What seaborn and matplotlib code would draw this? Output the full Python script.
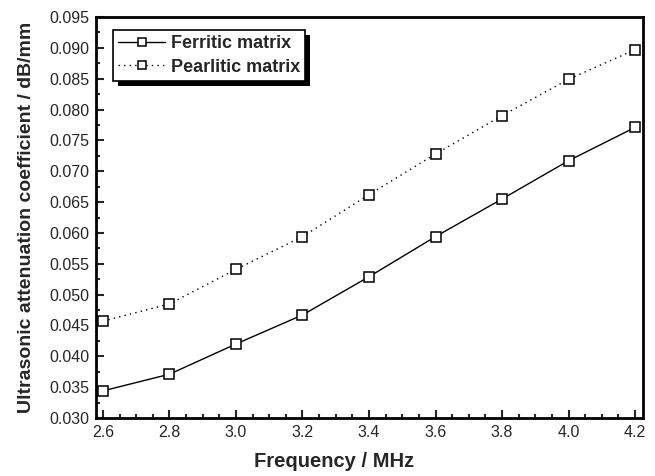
import numpy as np
import pandas as pd
import matplotlib
matplotlib.use("Agg")
import matplotlib.pyplot as plt
from matplotlib.patches import Rectangle
from matplotlib.transforms import IdentityTransform
from matplotlib.ticker import MultipleLocator, FormatStrFormatter
import seaborn as sns

# data
frequency = [2.6, 2.8, 3.0, 3.2, 3.4, 3.6, 3.8, 4.0, 4.2]
ferritic = [0.0344, 0.0371, 0.0420, 0.0467, 0.0529, 0.0594, 0.0655, 0.0717, 0.0771]
pearlitic = [0.0457, 0.0485, 0.0541, 0.0594, 0.0662, 0.0728, 0.0790, 0.0849, 0.0897]
series_names = ["Ferritic matrix", "Pearlitic matrix"]

df = pd.DataFrame({
    "freq": frequency * 2,
    "atten": ferritic + pearlitic,
    "series": [series_names[0]] * len(frequency) + [series_names[1]] * len(frequency),
})

sns.set_style("ticks")
plt.rcParams["font.family"] = ["Liberation Sans", "DejaVu Sans"]

fig = plt.figure(figsize=(6.55, 4.76), dpi=100)
ax = fig.add_axes([96 / 655, 58 / 476, 547 / 655, 401 / 476])

sns.lineplot(
    data=df, x="freq", y="atten", hue="series", style="series",
    palette=["black", "black"], dashes=[(None, None), (1, 3)],
    markers=["s", "s"], markersize=6.5, markerfacecolor="white",
    markeredgecolor="black", markeredgewidth=1.1, linewidth=1.0,
    ax=ax,
)

ax.set_xlim(2.579, 4.224)
ax.set_ylim(0.030, 0.095)
ax.xaxis.set_major_locator(MultipleLocator(0.2))
ax.xaxis.set_minor_locator(MultipleLocator(0.05))
ax.yaxis.set_major_locator(MultipleLocator(0.005))
ax.yaxis.set_minor_locator(MultipleLocator(0.0025))
ax.xaxis.set_major_formatter(FormatStrFormatter("%.1f"))
ax.yaxis.set_major_formatter(FormatStrFormatter("%.3f"))

ax.tick_params(which="both", direction="in", top=False, right=False, labelsize=11.5, width=1.5)
ax.tick_params(which="major", length=6, pad=5)
ax.tick_params(which="minor", length=3)
for side in ["left", "right", "top", "bottom"]:
    ax.spines[side].set_visible(True)
    ax.spines[side].set_linewidth(2)
    ax.spines[side].set_color("black")

ax.set_xlabel("Frequency / MHz", fontsize=14.5, fontweight="bold")
ax.xaxis.set_label_coords(0.435, -0.085)
ax.set_ylabel("Ultrasonic attenuation coefficient / dB/mm", fontsize=14,
              fontweight="bold")
ax.yaxis.set_label_coords(-0.112, 0.5)

leg = ax.legend(
    loc="upper left", bbox_to_anchor=(0.031, 0.968), borderaxespad=0,
    frameon=True, fancybox=False, shadow=False,
    edgecolor="black", prop={"size": 13, "weight": "bold"},
    handlelength=2.6, handletextpad=0.3, markerscale=0.8,
    borderpad=0.3, labelspacing=0.35, title=None,
)
leg.get_frame().set_linewidth(1.2)
leg.get_frame().set_alpha(1)

# solid offset shadow behind the legend box
fig.canvas.draw()
bb = leg.get_window_extent()
shadow = Rectangle((bb.x0 + 5, bb.y0 - 5), bb.width, bb.height,
                   transform=IdentityTransform(), facecolor="black",
                   edgecolor="none", zorder=4.9, clip_on=False)
ax.add_patch(shadow)

fig.savefig("out.png", dpi=100)
